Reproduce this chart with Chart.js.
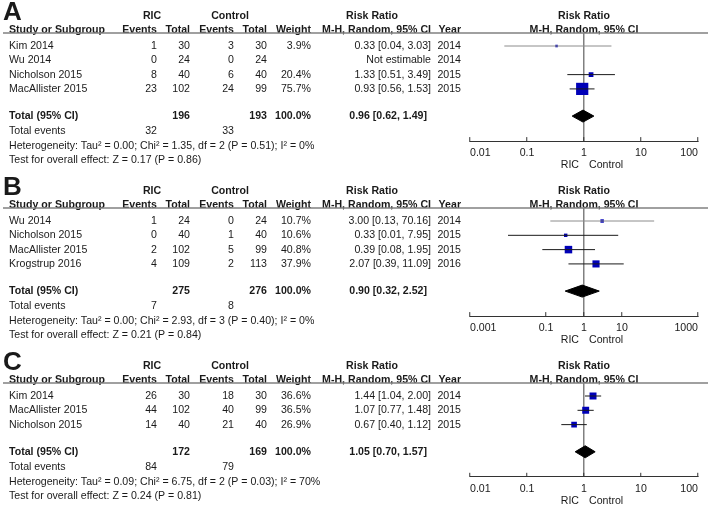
<!DOCTYPE html>
<html>
<head>
<meta charset="utf-8">
<script src="https://cdn.jsdelivr.net/npm/chart.js@4.4.1/dist/chart.umd.min.js"></script>
<style>
  html, body { margin: 0; padding: 0; background: #fff; }
  #wrap { position: relative; width: 708px; height: 505px; overflow: hidden; }
  canvas { position: absolute; left: 0; }
</style>
</head>
<body>
<div id="wrap">
  <canvas id="plotA" width="708" height="175" style="top:0px"></canvas>
  <canvas id="plotB" width="708" height="175" style="top:175px"></canvas>
  <canvas id="plotC" width="708" height="155" style="top:350px"></canvas>
</div>
<script>
// === Panneau A ===
const studiesA = ["Kim 2014", "Wu 2014", "Nicholson 2015", "MacAllister 2015"];
const ricEventsA = [1, 0, 8, 23];
const ricTotalA = [30, 24, 40, 102];
const ctlEventsA = [3, 0, 6, 24];
const ctlTotalA = [30, 24, 40, 99];
const weightA = [3.9, null, 20.4, 75.7];
const rrA = [0.33, null, 1.33, 0.93];
const loA = [0.04, null, 0.51, 0.56];
const hiA = [3.03, null, 3.49, 1.53];
const yearA = [2014, 2014, 2015, 2015];
const totalA = { rr: 0.96, lo: 0.62, hi: 1.49, ricTotal: 196, ctlTotal: 193, ricEvents: 32, ctlEvents: 33 };
const hetA = "Heterogeneity: Tau\u00b2 = 0.00; Chi\u00b2 = 1.35, df = 2 (P = 0.51); I\u00b2 = 0%";
const testA = "Test for overall effect: Z = 0.17 (P = 0.86)";
const ticksA = [0.01, 0.1, 1, 10, 100];

// === Panneau B ===
const studiesB = ["Wu 2014", "Nicholson 2015", "MacAllister 2015", "Krogstrup 2016"];
const ricEventsB = [1, 0, 2, 4];
const ricTotalB = [24, 40, 102, 109];
const ctlEventsB = [0, 1, 5, 2];
const ctlTotalB = [24, 40, 99, 113];
const weightB = [10.7, 10.6, 40.8, 37.9];
const rrB = [3.00, 0.33, 0.39, 2.07];
const loB = [0.13, 0.01, 0.08, 0.39];
const hiB = [70.16, 7.95, 1.95, 11.09];
const yearB = [2014, 2015, 2015, 2016];
const totalB = { rr: 0.90, lo: 0.32, hi: 2.52, ricTotal: 275, ctlTotal: 276, ricEvents: 7, ctlEvents: 8 };
const hetB = "Heterogeneity: Tau\u00b2 = 0.00; Chi\u00b2 = 2.93, df = 3 (P = 0.40); I\u00b2 = 0%";
const testB = "Test for overall effect: Z = 0.21 (P = 0.84)";
const ticksB = [0.001, 0.1, 1, 10, 1000];

// === Panneau C ===
const studiesC = ["Kim 2014", "MacAllister 2015", "Nicholson 2015"];
const ricEventsC = [26, 44, 14];
const ricTotalC = [30, 102, 40];
const ctlEventsC = [18, 40, 21];
const ctlTotalC = [30, 99, 40];
const weightC = [36.6, 36.5, 26.9];
const rrC = [1.44, 1.07, 0.67];
const loC = [1.04, 0.77, 0.40];
const hiC = [2.00, 1.48, 1.12];
const yearC = [2014, 2015, 2015];
const totalC = { rr: 1.05, lo: 0.70, hi: 1.57, ricTotal: 172, ctlTotal: 169, ricEvents: 84, ctlEvents: 79 };
const hetC = "Heterogeneity: Tau\u00b2 = 0.09; Chi\u00b2 = 6.75, df = 2 (P = 0.03); I\u00b2 = 70%";
const testC = "Test for overall effect: Z = 0.24 (P = 0.81)";
const ticksC = [0.01, 0.1, 1, 10, 100];

// === Réglages communs ===
const FONT = "'Liberation Sans', Arial, Helvetica, sans-serif";
const FS = 10.6;
const INK = "#1a1a1a";
const ROW_PX = 14.3;   // hauteur d'une ligne d'étude
const TOP_PX = 33;     // trait d'en-tête = haut de la zone du graphique
const COL = { name: 9, ricEv: 157, ricTot: 190, ctlEv: 234, ctlTot: 267, weight: 311, ci: 431, ciTot: 427, year: 461 };

const panels = [
  { id: "plotA", letter: "A", height: 175, studies: studiesA, ricEvents: ricEventsA, ricTotal: ricTotalA,
    ctlEvents: ctlEventsA, ctlTotal: ctlTotalA, weight: weightA, rr: rrA, lo: loA, hi: hiA, year: yearA,
    total: totalA, het: hetA, test: testA, ticks: ticksA, greyCI: [0] },
  { id: "plotB", letter: "B", height: 175, studies: studiesB, ricEvents: ricEventsB, ricTotal: ricTotalB,
    ctlEvents: ctlEventsB, ctlTotal: ctlTotalB, weight: weightB, rr: rrB, lo: loB, hi: hiB, year: yearB,
    total: totalB, het: hetB, test: testB, ticks: ticksB, greyCI: [0] },
  { id: "plotC", letter: "C", height: 155, studies: studiesC, ricEvents: ricEventsC, ricTotal: ricTotalC,
    ctlEvents: ctlEventsC, ctlTotal: ctlTotalC, weight: weightC, rr: rrC, lo: loC, hi: hiC, year: yearC,
    total: totalC, het: hetC, test: testC, ticks: ticksC, greyCI: [] }
];

function fmtCI(rr, lo, hi) {
  return rr.toFixed(2) + " [" + lo.toFixed(2) + ", " + hi.toFixed(2) + "]";
}

function put(ctx, s, x, y, align, bold) {
  ctx.font = (bold ? "bold " : "") + FS + "px " + FONT;
  ctx.textAlign = align;
  ctx.fillText(String(s), x, y);
}

// Tableau de texte à gauche + en-têtes, dessinés dans le canvas
function tablePlugin(p, T) {
  return {
    id: "forestTable",
    afterDraw(chart) {
      const ctx = chart.ctx;
      const ys = chart.scales.y;
      const area = chart.chartArea;
      const x1 = chart.scales.x.getPixelForValue(1);
      ctx.save();
      ctx.fillStyle = INK;

      ctx.font = "bold 26px " + FONT;
      ctx.textAlign = "left";
      ctx.textBaseline = "alphabetic";
      ctx.fillText(p.letter, 3, 20);

      ctx.textBaseline = "middle";
      put(ctx, "RIC", 152, 16, "center", true);
      put(ctx, "Control", 230, 16, "center", true);
      put(ctx, "Risk Ratio", 372, 16, "center", true);
      put(ctx, "Risk Ratio", x1, 16, "center", true);

      put(ctx, "Study or Subgroup", COL.name, 30, "left", true);
      put(ctx, "Events", COL.ricEv, 30, "right", true);
      put(ctx, "Total", COL.ricTot, 30, "right", true);
      put(ctx, "Events", COL.ctlEv, 30, "right", true);
      put(ctx, "Total", COL.ctlTot, 30, "right", true);
      put(ctx, "Weight", COL.weight, 30, "right", true);
      put(ctx, "M-H, Random, 95% CI", COL.ci, 30, "right", true);
      put(ctx, "Year", COL.year, 30, "right", true);
      put(ctx, "M-H, Random, 95% CI", x1, 30, "center", true);

      ctx.strokeStyle = "#808080";
      ctx.lineWidth = 1.5;
      ctx.beginPath();
      ctx.moveTo(3, area.top);
      ctx.lineTo(chart.width, area.top);
      ctx.stroke();

      p.studies.forEach((s, i) => {
        const y = ys.getPixelForValue(i);
        put(ctx, s, COL.name, y, "left");
        put(ctx, p.ricEvents[i], COL.ricEv, y, "right");
        put(ctx, p.ricTotal[i], COL.ricTot, y, "right");
        put(ctx, p.ctlEvents[i], COL.ctlEv, y, "right");
        put(ctx, p.ctlTotal[i], COL.ctlTot, y, "right");
        if (p.weight[i] != null) put(ctx, p.weight[i].toFixed(1) + "%", COL.weight, y, "right");
        const ci = p.rr[i] == null ? "Not estimable" : fmtCI(p.rr[i], p.lo[i], p.hi[i]);
        put(ctx, ci, COL.ci, y, "right");
        put(ctx, p.year[i], COL.year, y, "right");
      });

      const t = p.total;
      let y = ys.getPixelForValue(T);
      put(ctx, "Total (95% CI)", COL.name, y, "left", true);
      put(ctx, t.ricTotal, COL.ricTot, y, "right", true);
      put(ctx, t.ctlTotal, COL.ctlTot, y, "right", true);
      put(ctx, "100.0%", COL.weight, y, "right", true);
      put(ctx, fmtCI(t.rr, t.lo, t.hi), COL.ciTot, y, "right", true);

      y = ys.getPixelForValue(T + 1.05);
      put(ctx, "Total events", COL.name, y, "left");
      put(ctx, t.ricEvents, COL.ricEv, y, "right");
      put(ctx, t.ctlEvents, COL.ctlEv, y, "right");
      put(ctx, p.het, COL.name, ys.getPixelForValue(T + 2.1), "left");
      put(ctx, p.test, COL.name, ys.getPixelForValue(T + 3.1), "left");

      // libellés sous l'axe
      const yl = area.bottom + 24;
      put(ctx, "RIC", x1 - 5, yl, "right");
      put(ctx, "Control", x1 + 5, yl, "left");
      ctx.restore();
    }
  };
}

function buildPanel(p) {
  const n = p.studies.length;
  const T = n + 0.9;
  const yMin = -0.91;
  const yMax = T + 1.75;
  const bottom = TOP_PX + (yMax - yMin) * ROW_PX;

  const datasets = [];
  // intervalles de confiance
  p.rr.forEach((v, i) => {
    if (v == null) return;
    datasets.push({
      data: [{ x: p.lo[i], y: i }, { x: p.hi[i], y: i }],
      showLine: true,
      borderColor: p.greyCI.includes(i) ? "#8c8c8c" : "#1a1a1a",
      borderWidth: 1,
      pointRadius: 0
    });
  });
  // carrés (taille selon le poids)
  const pts = [], radii = [];
  p.rr.forEach((v, i) => {
    if (v == null) return;
    pts.push({ x: v, y: i });
    radii.push((2 + 0.135 * p.weight[i]) / 1.414);
  });
  datasets.push({ data: pts, pointStyle: "rect", pointRadius: radii, backgroundColor: "#0000b8", borderWidth: 0 });
  // losange du total
  const h = 0.42, t = p.total;
  datasets.push({
    data: [{ x: t.lo, y: T }, { x: t.rr, y: T - h }, { x: t.hi, y: T }, { x: t.rr, y: T + h }, { x: t.lo, y: T }],
    showLine: true,
    fill: "shape",
    backgroundColor: "#000",
    borderColor: "#000",
    borderWidth: 1,
    pointRadius: 0
  });

  new Chart(document.getElementById(p.id), {
    type: "scatter",
    data: { datasets: datasets },
    plugins: [tablePlugin(p, T)],
    options: {
      responsive: false,
      devicePixelRatio: 1,
      animation: false,
      events: [],
      layout: { padding: { left: 470, right: 10, top: TOP_PX, bottom: 0 } },
      plugins: { legend: { display: false }, tooltip: { enabled: false } },
      scales: {
        x: {
          type: "logarithmic",
          min: p.ticks[0],
          max: p.ticks[p.ticks.length - 1],
          afterBuildTicks: s => { s.ticks = p.ticks.map(v => ({ value: v })); },
          afterFit: s => { s.height = p.height - bottom; s.paddingLeft = 0; s.paddingRight = 0; },
          ticks: {
            callback: v => String(v),
            align: "inner",
            autoSkip: false,
            maxRotation: 0,
            padding: 10,
            color: INK,
            font: { family: FONT, size: FS }
          },
          grid: {
            drawOnChartArea: true,
            drawTicks: true,
            tickLength: -4,
            tickColor: "#333",
            tickWidth: 1,
            lineWidth: 1.5,
            color: c => (c.tick && c.tick.value === 1) ? "#808080" : "rgba(0,0,0,0)"
          },
          border: { display: true, color: "#333", width: 1 }
        },
        y: { type: "linear", reverse: true, min: yMin, max: yMax, display: false }
      }
    }
  });
}

panels.forEach(buildPanel);
</script>
</body>
</html>
